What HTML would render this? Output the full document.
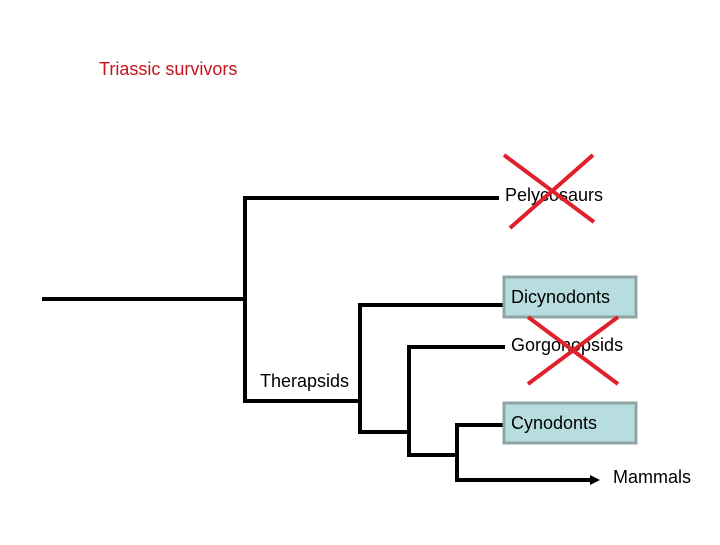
<!DOCTYPE html>
<html><head><style>
body{margin:0;background:#fff;}
svg text{font-family:"Liberation Sans",sans-serif;font-size:18px;}
</style></head><body>
<svg width="720" height="540" viewBox="0 0 720 540">
<g stroke="#000" stroke-width="4" fill="none" stroke-linecap="square">
<line x1="44" y1="299" x2="245" y2="299"/>
<polyline points="497,198 245,198 245,401 360,401"/>
<polyline points="503,305 360,305 360,432 409,432"/>
<polyline points="503,347 409,347 409,455 457,455"/>
<polyline points="503,425 457,425 457,480 592,480"/>
</g>
<polygon points="590,475 600,480 590,485" fill="#000"/>
<rect x="504" y="277" width="132" height="40" fill="#b8dde0" stroke="#8fa5a5" stroke-width="3"/>
<rect x="504" y="403" width="132" height="40" fill="#b8dde0" stroke="#8fa5a5" stroke-width="3"/>
<text x="99" y="75" fill="#c8141e">Triassic survivors</text>
<text x="505" y="201" fill="#000">Pelycosaurs</text>
<text x="511" y="303" fill="#000">Dicynodonts</text>
<text x="511" y="351" fill="#000">Gorgonopsids</text>
<text x="260" y="387" fill="#000">Therapsids</text>
<text x="511" y="429" fill="#000">Cynodonts</text>
<text x="613" y="483" fill="#000">Mammals</text>
<g stroke="#e0202a" stroke-width="4">
<line x1="504" y1="155" x2="594" y2="222"/>
<line x1="593" y1="155" x2="510" y2="228"/>
<line x1="528" y1="317" x2="618" y2="384"/>
<line x1="618" y1="317" x2="528" y2="384"/>
</g>
</svg>
</body></html>
